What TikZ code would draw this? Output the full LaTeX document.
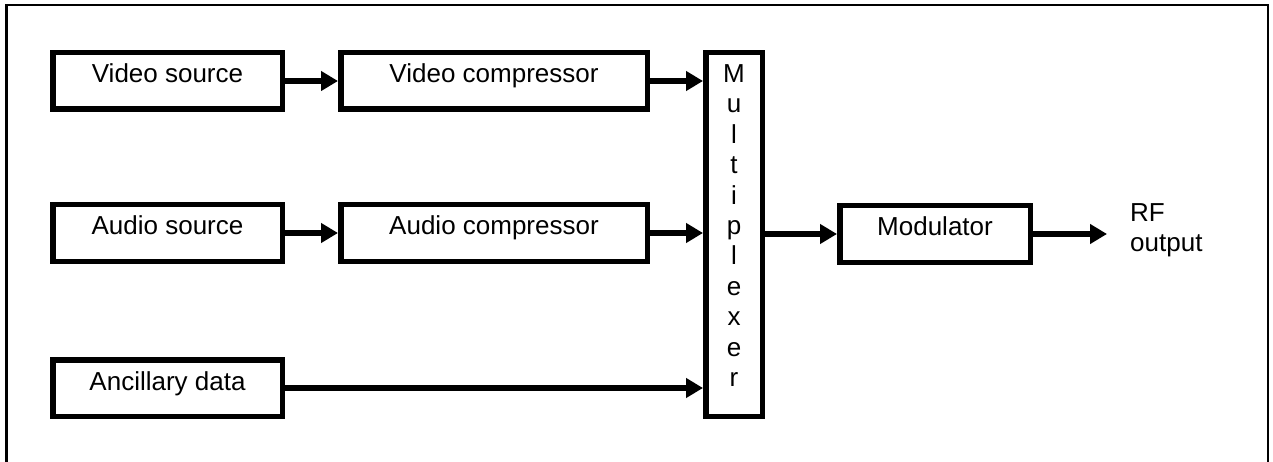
\documentclass[tikz,border=0pt]{standalone}
\usepackage{fontspec}
\setmainfont{Liberation Sans}
\usetikzlibrary{arrows.meta}
\begin{document}
\begin{tikzpicture}[x=1pt,y=1pt,
  txt/.style={font=\fontsize{26}{30.4}\selectfont, inner sep=0pt},
  blk/.style={txt, draw, line width=5.5pt, rectangle, minimum height=56.5pt,
    text height=12pt, text depth=8pt},
  conn/.style={line width=6pt, -{Triangle[length=17pt,width=19pt]}},
  frame/.style={line width=2.5pt}]
\useasboundingbox (0,0) rectangle (1273,-462);
\draw[frame] (6.5,-470) -- (6.5,-5) -- (1268,-5) -- (1268,-470);

\node[blk, minimum width=229.5pt] (vs) at (167.5,-81) {Video source};
\node[blk, minimum width=306.5pt] (vc) at (494,-81) {Video compressor};
\node[blk, minimum width=229.5pt] (as) at (167.5,-233) {Audio source};
\node[blk, minimum width=306.5pt] (ac) at (494,-233) {Audio compressor};
\node[blk, minimum width=229.5pt] (anc) at (167.5,-388) {Ancillary data};
\node[draw, line width=5.5pt, rectangle, minimum width=56.5pt, minimum height=363.5pt, inner sep=0pt] (mux) at (734,-234.5) {};
\node[txt, align=center] (muxlbl) at ([yshift=9pt]mux.center) {M\\u\\l\\t\\i\\p\\l\\e\\x\\e\\r};
\node[blk, minimum width=190.5pt] (mod) at (935,-234) {Modulator};
\node[txt, align=left, anchor=north west] (rf) at (1130,-203) {RF\\output};
\coordinate (rfend) at ([xshift=74pt]mod.east);

\draw[conn] (vs.east) -- (vc.west);
\draw[conn] (as.east) -- (ac.west);
\draw[conn] (vc.east) -- (vc.east -| mux.west);
\draw[conn] (ac.east) -- (ac.east -| mux.west);
\draw[conn] (anc.east) -- (anc.east -| mux.west);
\draw[conn] (mod.west -| mux.east) -- (mod.west);
\draw[conn] (mod.east) -- (rfend);
\end{tikzpicture}
\end{document}
